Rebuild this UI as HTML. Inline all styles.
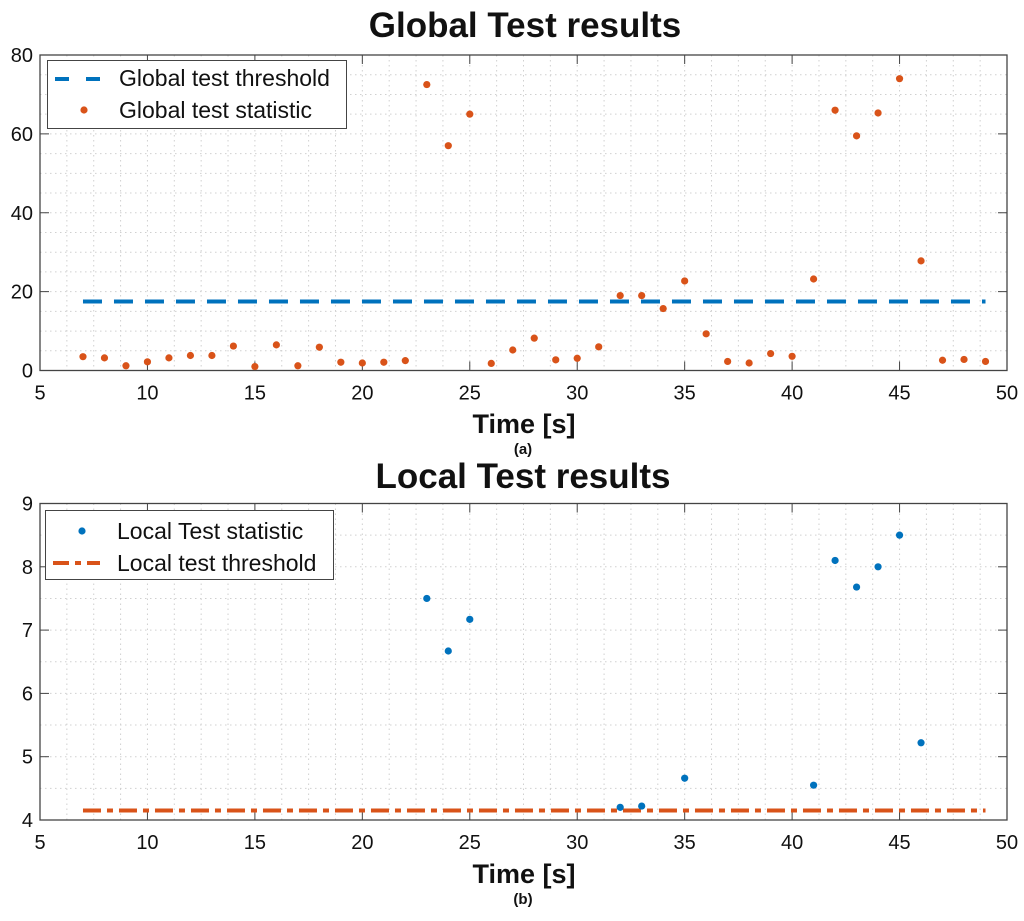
<!DOCTYPE html>
<html><head><meta charset="utf-8"><style>
body{margin:0;background:#fff;}
svg{display:block;font-family:"Liberation Sans",Arial,sans-serif;}
</style></head><body>
<svg id="chart" width="1024" height="921" viewBox="0 0 1024 921">
<g id="top"></g>
<g id="bot"></g>
</svg>
<script>
const globalTimes=[7,8,9,10,11,12,13,14,15,16,17,18,19,20,21,22,23,24,25,26,27,28,29,30,31,32,33,34,35,36,37,38,39,40,41,42,43,44,45,46,47,48,49];
const globalStat=[3.5,3.2,1.2,2.2,3.2,3.8,3.8,6.2,1,6.5,1.2,5.9,2.1,1.9,2.1,2.5,72.5,57,65,1.8,5.2,8.2,2.7,3.1,6,19,19,15.7,22.7,9.3,2.3,1.9,4.3,3.6,23.2,66,59.5,65.3,74,27.8,2.6,2.8,2.3];
const globalThreshold=17.5;
const localTimes=[23,24,25,32,33,35,41,42,43,44,45,46];
const localStat=[7.5,6.67,7.17,4.2,4.22,4.66,4.55,8.1,7.68,8,8.5,5.22];
const localThreshold=4.15;
const thrRange=[7,49];
const xTicks=[5,10,15,20,25,30,35,40,45,50];
const yTicksTop=[0,20,40,60,80];
const yTicksBot=[4,5,6,7,8,9];
const NS='http://www.w3.org/2000/svg';
const BLUE='#0072BD',ORANGE='#D95319';
function mk(p,t,a){const e=document.createElementNS(NS,t);for(const k in a)e.setAttribute(k,a[k]);p.appendChild(e);return e;}
function txt(p,x,y,s,size,w,anchor){const e=mk(p,'text',{x:x,y:y,'font-size':size,'font-weight':w||'normal','text-anchor':anchor||'middle',fill:'#111'});e.textContent=s;return e;}
function panel(g,cfg){
 const L=40,R=1007,T=cfg.T,B=cfg.B;
 const sx=v=>L+(v-5)/45*(R-L);
 const sy=v=>B-(v-cfg.y0)/(cfg.y1-cfg.y0)*(B-T);
 for(let v=5;v<=50.01;v+=1.25){const l=mk(g,'line',{x1:sx(v),x2:sx(v),y1:T,y2:B,stroke:'#d0d0d0','stroke-width':1,'stroke-dasharray':'1.5,3.5'});}
 for(let v=cfg.y0;v<=cfg.y1+1e-9;v+=cfg.ym){const l=mk(g,'line',{x1:L,x2:R,y1:sy(v),y2:sy(v),stroke:'#d0d0d0','stroke-width':1,'stroke-dasharray':'1.5,3.5'});}
 const box=mk(g,'rect',{x:L,y:T,width:R-L,height:B-T,fill:'none',stroke:'#444','stroke-width':1.3});
 
 xTicks.forEach(v=>{mk(g,'line',{x1:sx(v),x2:sx(v),y1:B,y2:B-9,stroke:'#444'});mk(g,'line',{x1:sx(v),x2:sx(v),y1:T,y2:T+9,stroke:'#444'});
  const t=txt(g,sx(v),B+29,String(v),20);});
 cfg.yt.forEach(v=>{mk(g,'line',{x1:L,x2:L+9,y1:sy(v),y2:sy(v),stroke:'#444'});mk(g,'line',{x1:R,x2:R-9,y1:sy(v),y2:sy(v),stroke:'#444'});
  const t=txt(g,L-7,sy(v)+7,String(v),20,'normal','end');});
 return {sx,sy,L,R,T,B};
}
const gt=document.getElementById('top');
const a=panel(gt,{T:55,B:370.5,y0:0,y1:80,ym:5,yt:yTicksTop});
const th=mk(gt,'line',{x1:a.sx(thrRange[0]),x2:a.sx(thrRange[1]),y1:a.sy(globalThreshold),y2:a.sy(globalThreshold),stroke:BLUE,'stroke-width':4,'stroke-dasharray':'19,12'});

globalTimes.forEach((t,i)=>{const c=mk(gt,'circle',{cx:a.sx(t),cy:a.sy(globalStat[i]),r:3.6,fill:ORANGE});
 });
let e=txt(gt,525,37,'Global Test results',35,'bold');
e=txt(gt,524,433,'Time [s]',27,'bold');
e=txt(gt,523,454,'(a)',15,'bold');
const lg=mk(gt,'g',{});
mk(lg,'rect',{x:47.5,y:60.5,width:299,height:68,fill:'#fff',stroke:'#444','stroke-width':1});
mk(lg,'line',{x1:55,x2:102,y1:79,y2:79,stroke:BLUE,'stroke-width':4,'stroke-dasharray':'14,17'});
mk(lg,'circle',{cx:84,cy:110,r:3.6,fill:ORANGE});
e=txt(lg,119,86,'Global test threshold',23,'normal','start');
e=txt(lg,119,118,'Global test statistic',23,'normal','start');
const gb=document.getElementById('bot');
const b=panel(gb,{T:503.5,B:820,y0:4,y1:9,ym:0.5,yt:yTicksBot});
const th2=mk(gb,'line',{x1:b.sx(thrRange[0]),x2:b.sx(thrRange[1]),y1:b.sy(localThreshold),y2:b.sy(localThreshold),stroke:ORANGE,'stroke-width':4,'stroke-dasharray':'18,6,6,6'});

localTimes.forEach((t,i)=>{const c=mk(gb,'circle',{cx:b.sx(t),cy:b.sy(localStat[i]),r:3.6,fill:BLUE});
 });
e=txt(gb,523,488,'Local Test results',35,'bold');
e=txt(gb,524,883,'Time [s]',27,'bold');
e=txt(gb,523,904,'(b)',15,'bold');
const lg2=mk(gb,'g',{});
mk(lg2,'rect',{x:45.5,y:510.5,width:288,height:69,fill:'#fff',stroke:'#444','stroke-width':1});
mk(lg2,'circle',{cx:82,cy:531,r:3.6,fill:BLUE});
mk(lg2,'line',{x1:53,x2:100,y1:563,y2:563,stroke:ORANGE,'stroke-width':4,'stroke-dasharray':'16,6,6,6'});
e=txt(lg2,117,539,'Local Test statistic',23,'normal','start');
e=txt(lg2,117,571,'Local test threshold',23,'normal','start');
</script>
</body></html>
